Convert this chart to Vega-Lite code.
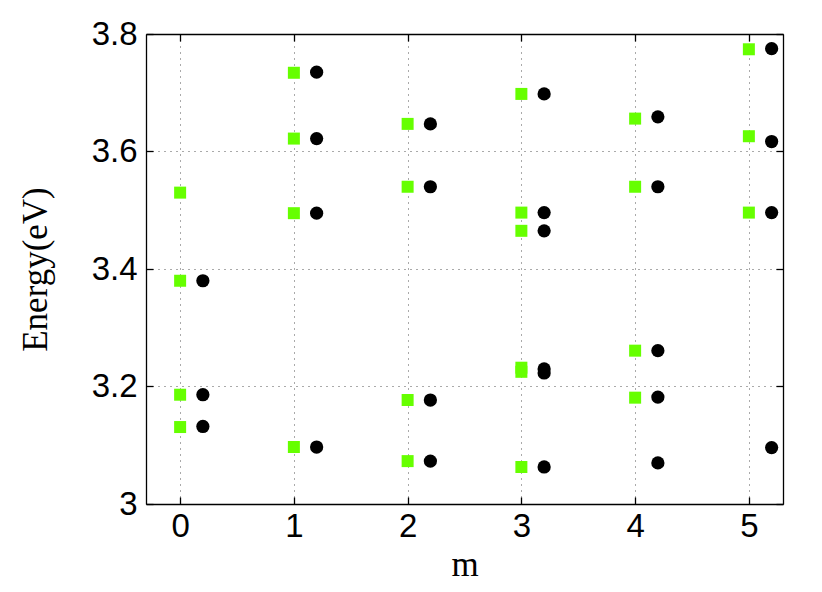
{
  "$schema": "https://vega.github.io/schema/vega-lite/v6.json",
  "width": 637,
  "height": 470,
  "autosize": "none",
  "padding": {"left": 146, "top": 34, "right": 39, "bottom": 88},
  "background": "white",
  "config": {
    "view": {"stroke": null},
    "axis": {
      "domainColor": "black",
      "domainWidth": 1.3,
      "tickColor": "black",
      "tickWidth": 1.3,
      "labelColor": "black",
      "labelFont": "Liberation Sans",
      "labelFontSize": 33,
      "titleFont": "Liberation Serif",
      "titleFontSize": 35,
      "titleFontWeight": "normal",
      "titleColor": "black",
      "gridColor": "#555555",
      "gridDash": [1, 5],
      "gridWidth": 1,
      "gridOpacity": 1
    }
  },
  "data": {
    "values": [
      {"series": "green", "x": 0, "E": 3.53},
      {"series": "green", "x": 0, "E": 3.38},
      {"series": "green", "x": 0, "E": 3.186},
      {"series": "green", "x": 0, "E": 3.131},
      {"series": "green", "x": 1, "E": 3.734},
      {"series": "green", "x": 1, "E": 3.622},
      {"series": "green", "x": 1, "E": 3.495},
      {"series": "green", "x": 1, "E": 3.097},
      {"series": "green", "x": 2, "E": 3.647},
      {"series": "green", "x": 2, "E": 3.54},
      {"series": "green", "x": 2, "E": 3.177},
      {"series": "green", "x": 2, "E": 3.073},
      {"series": "green", "x": 3, "E": 3.698},
      {"series": "green", "x": 3, "E": 3.496},
      {"series": "green", "x": 3, "E": 3.465},
      {"series": "green", "x": 3, "E": 3.232},
      {"series": "green", "x": 3, "E": 3.225},
      {"series": "green", "x": 3, "E": 3.063},
      {"series": "green", "x": 4, "E": 3.656},
      {"series": "green", "x": 4, "E": 3.54},
      {"series": "green", "x": 4, "E": 3.261},
      {"series": "green", "x": 4, "E": 3.181},
      {"series": "green", "x": 5, "E": 3.774},
      {"series": "green", "x": 5, "E": 3.626},
      {"series": "green", "x": 5, "E": 3.496},
      {"series": "black", "x": 0.2, "E": 3.38},
      {"series": "black", "x": 0.2, "E": 3.186},
      {"series": "black", "x": 0.2, "E": 3.132},
      {"series": "black", "x": 1.2, "E": 3.735},
      {"series": "black", "x": 1.2, "E": 3.622},
      {"series": "black", "x": 1.2, "E": 3.495},
      {"series": "black", "x": 1.2, "E": 3.097},
      {"series": "black", "x": 2.2, "E": 3.647},
      {"series": "black", "x": 2.2, "E": 3.54},
      {"series": "black", "x": 2.2, "E": 3.177},
      {"series": "black", "x": 2.2, "E": 3.073},
      {"series": "black", "x": 3.2, "E": 3.698},
      {"series": "black", "x": 3.2, "E": 3.496},
      {"series": "black", "x": 3.2, "E": 3.465},
      {"series": "black", "x": 3.2, "E": 3.23},
      {"series": "black", "x": 3.2, "E": 3.223},
      {"series": "black", "x": 3.2, "E": 3.063},
      {"series": "black", "x": 4.2, "E": 3.659},
      {"series": "black", "x": 4.2, "E": 3.54},
      {"series": "black", "x": 4.2, "E": 3.261},
      {"series": "black", "x": 4.2, "E": 3.182},
      {"series": "black", "x": 4.2, "E": 3.07},
      {"series": "black", "x": 5.2, "E": 3.775},
      {"series": "black", "x": 5.2, "E": 3.617},
      {"series": "black", "x": 5.2, "E": 3.496},
      {"series": "black", "x": 5.2, "E": 3.096}
    ]
  },
  "layer": [
    {
      "transform": [{"filter": "datum.series === 'green'"}],
      "mark": {"type": "point", "shape": "square", "filled": true, "color": "#66ff00", "size": 144, "opacity": 1},
      "encoding": {
        "x": {
          "field": "x", "type": "quantitative",
          "scale": {"domain": [-0.3, 5.3], "nice": false, "zero": false},
          "axis": {"orient": "bottom", "values": [0, 1, 2, 3, 4, 5], "format": "~g", "grid": true, "tickSize": -7, "labelPadding": 13, "title": "m", "titlePadding": 4}
        },
        "y": {
          "field": "E", "type": "quantitative",
          "scale": {"domain": [3.0, 3.8], "nice": false, "zero": false},
          "axis": {"orient": "left", "values": [3.0, 3.2, 3.4, 3.6, 3.8], "format": "~g", "grid": true, "tickSize": -7, "labelPadding": 16, "title": "Energy(eV)", "titlePadding": 38}
        }
      }
    },
    {
      "transform": [{"filter": "datum.series === 'black'"}],
      "mark": {"type": "circle", "color": "black", "size": 175, "opacity": 1},
      "encoding": {
        "x": {
          "field": "x", "type": "quantitative",
          "axis": {"orient": "top", "values": [0, 1, 2, 3, 4, 5], "labels": false, "grid": false, "tickSize": -7, "title": null}
        },
        "y": {
          "field": "E", "type": "quantitative",
          "axis": {"orient": "right", "values": [3.0, 3.2, 3.4, 3.6, 3.8], "labels": false, "grid": false, "tickSize": -7, "title": null}
        }
      }
    }
  ],
  "resolve": {"axis": {"x": "independent", "y": "independent"}}
}
